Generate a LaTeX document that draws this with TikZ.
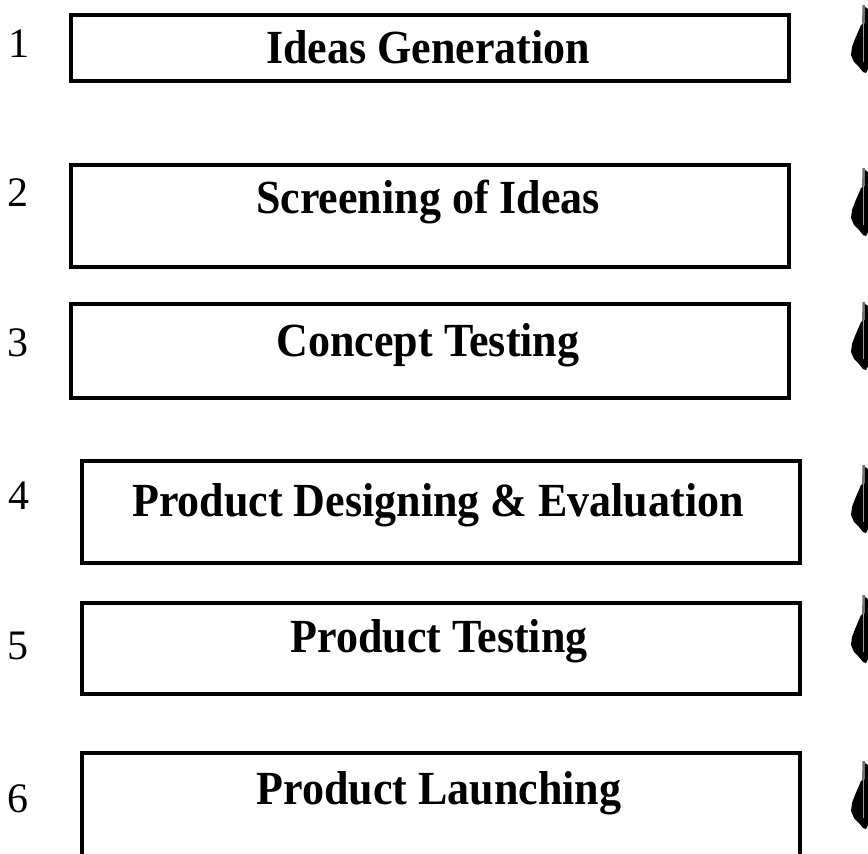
\documentclass[tikz,border=0pt]{standalone}
\usepackage{fontspec}
\setmainfont{Liberation Serif}
\begin{document}
\begin{tikzpicture}[x=1pt,y=-1pt,
  stepbox/.style={draw=black, line width=3.3pt, inner sep=0pt, minimum width=718pt},
  steplabel/.style={font=\fontsize{44}{50}\selectfont\bfseries, inner sep=0pt, anchor=base},
  stepnum/.style={font=\fontsize{42}{50}\selectfont, inner sep=0pt, anchor=base},
  halfarrow/.pic={
    \fill[black!55] (11.5,0) -- (14,0) -- (14,20) -- (11,20) -- cycle;
    \fill[black] (14,2) -- (17,4) -- (17,64) -- (15,68) -- (12,67) -- (8,62)
      -- (3,57) -- (0,50) -- (1,42) -- (4,34) -- (7,27) -- (10,20) -- (14,18) -- cycle;
    \draw[black!40, line width=1.4pt] (12.5,18) -- (12.5,57);
  }]
\useasboundingbox (0,0) rectangle (868,854);
\clip (0,0) rectangle (868,854);
\fill[white] (0,0) rectangle (868,854);

% boxes
\node[stepbox, minimum height=66pt]  (b1) at (430,48) {};
\node[stepbox, minimum height=102pt] (b2) at (430,216) {};
\node[stepbox, minimum height=94pt]  (b3) at (430,351) {};
\node[stepbox, minimum height=102pt] (b4) at (441,512) {};
\node[stepbox, minimum height=91pt]  (b5) at (441,648.5) {};
\node[stepbox, minimum height=147pt] (b6) at (441,826.5) {};

% labels
\node[steplabel] (t1) at (428,63)  {\scalebox{1}[1.08]{Ideas Generation}};
\node[steplabel] (t2) at (428,213) {\scalebox{1}[1.08]{Screening of Ideas}};
\node[steplabel] (t3) at (428,356) {\scalebox{1}[1.08]{Concept Testing}};
\node[steplabel] (t4) at (438,516) {\scalebox{1}[1.08]{Product Designing \& Evaluation}};
\node[steplabel] (t5) at (439,652) {\scalebox{1}[1.08]{Product Testing}};
\node[steplabel] (t6) at (439,804) {\scalebox{1}[1.08]{Product Launching}};

% numbers
\node[stepnum] (n1) at (19,57)  {1};
\node[stepnum] (n2) at (18.5,206) {2};
\node[stepnum] (n3) at (18,356) {3};
\node[stepnum] (n4) at (19,509) {4};
\node[stepnum] (n5) at (18,659) {5};
\node[stepnum] (n6) at (18,812) {6};

% cut-off arrow glyphs at the right edge
\pic at (851,5)   {halfarrow};
\pic at (851,168) {halfarrow};
\pic at (851,302) {halfarrow};
\pic at (851,465) {halfarrow};
\pic at (851,595) {halfarrow};
\pic at (851,761) {halfarrow};
\end{tikzpicture}
\end{document}
